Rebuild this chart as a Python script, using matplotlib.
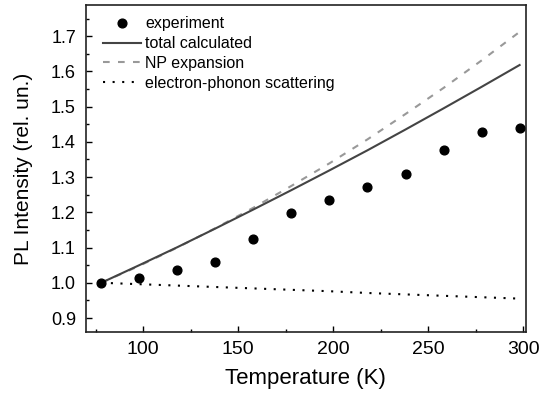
import matplotlib
matplotlib.use("Agg")
import matplotlib.pyplot as plt
from matplotlib.ticker import MultipleLocator

plt.rcParams['font.family'] = ['Liberation Sans', 'DejaVu Sans']

# experiment
T_exp = [78, 98, 118, 138, 158, 178, 198, 218, 238, 258, 278, 298]
I_exp = [1.000, 1.014, 1.035, 1.058, 1.125, 1.197, 1.235, 1.271, 1.309, 1.377, 1.429, 1.440]

# calculated curves (read at 20 K steps)
T_calc = [78, 98, 118, 138, 158, 178, 198, 218, 238, 258, 278, 298]
I_total = [1.000, 1.050, 1.101, 1.154, 1.208, 1.263, 1.319, 1.376, 1.435, 1.495, 1.556, 1.618]
I_np = [1.000, 1.048, 1.100, 1.155, 1.213, 1.275, 1.339, 1.407, 1.479, 1.553, 1.631, 1.712]
I_ep = [1.000, 0.996, 0.992, 0.988, 0.984, 0.980, 0.976, 0.971, 0.967, 0.963, 0.959, 0.955]

fig = plt.figure(figsize=(5.39, 3.94), dpi=100)
ax = fig.add_axes([0.159, 0.158, 0.817, 0.829])

ax.plot(T_exp, I_exp, 'o', color='black', markersize=6.3, label='experiment', zorder=5)
ax.plot(T_calc, I_total, '-', color='#444444', lw=1.5, label='total calculated', zorder=4)
ax.plot(T_calc, I_np, '--', color='#999999', lw=1.5, dashes=(3.2, 4), label='NP expansion', zorder=3)
ax.plot(T_calc, I_ep, ':', color='black', lw=1.5, dashes=(1, 3.6), label='electron-phonon scattering', zorder=3)

ax.set_xlim(69.8, 301.4)
ax.set_ylim(0.861, 1.788)
ax.xaxis.set_major_locator(MultipleLocator(50))
ax.xaxis.set_minor_locator(MultipleLocator(25))
ax.yaxis.set_minor_locator(MultipleLocator(0.05))
ax.set_yticks([0.9, 1.0, 1.1, 1.2, 1.3, 1.4, 1.5, 1.6, 1.7])
ax.set_yticklabels(['0.9', '1.0', '1.1', '1.2', '1.3', '1.4', '1.5', '1.6', '1.7'])
ax.tick_params(which='both', direction='in', width=1, top=False, right=False)
ax.tick_params(axis='x', which='major', labelsize=14, pad=7)
ax.tick_params(axis='y', which='major', labelsize=13, pad=7)
ax.tick_params(which='major', length=4)
ax.tick_params(which='minor', length=2)
for s in ax.spines.values():
    s.set_linewidth(1.2)
    s.set_color('#222222')

ax.set_xlabel('Temperature (K)', fontsize=16, labelpad=7)
ax.set_ylabel('PL Intensity (rel. un.)', fontsize=15, labelpad=13)

ax.legend(loc='upper left', frameon=False, fontsize=11.5, handlelength=2.42,
          handletextpad=0.25, labelspacing=0.3, borderaxespad=0.3,
          bbox_to_anchor=(0.013, 1.0))

fig.savefig('out.png', dpi=100)
